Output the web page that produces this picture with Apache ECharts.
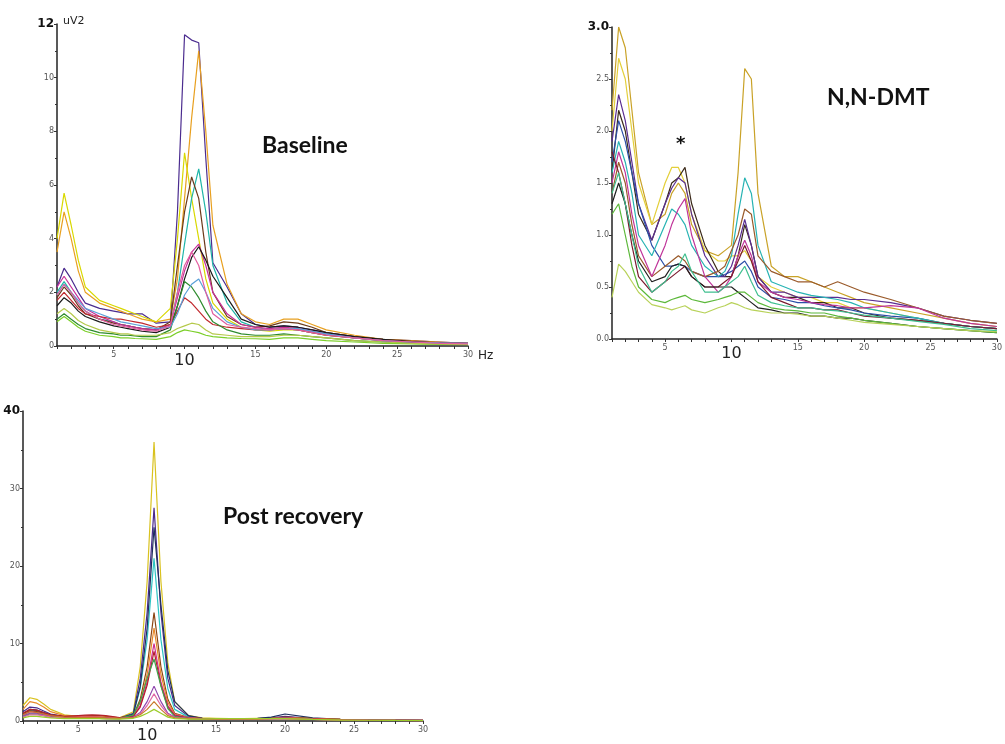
<!DOCTYPE html>
<html>
<head>
<meta charset="utf-8">
<script src="https://cdn.jsdelivr.net/npm/echarts@6/dist/echarts.min.js"></script>
<style>
  html, body { margin: 0; padding: 0; background: #fff; }
  #chart { width: 1005px; height: 744px; }
</style>
</head>
<body>
<div id="chart"></div>
<script>
// frequency grid (Hz) shared by all three spectra
var hz = [1, 1.5, 2, 2.5, 3, 4, 5, 5.5, 6, 6.5, 7, 8, 9, 9.5, 10, 10.5, 11, 11.5, 12, 13, 14, 15, 16, 17, 18, 19, 20, 22, 24, 26, 28, 30]
var xTickValues = [1, 2, 3, 4, 5, 6, 7, 8, 9, 10, 11, 12, 13, 14, 15, 16, 17, 18, 19, 20, 21, 22, 23, 24, 25, 26, 27, 28, 29, 30]
var xLabelValues = [5, 10, 15, 20, 25, 30]

// Baseline (uV2)
var baselineCurves = [
  [2.2, 2.9, 2.5, 2.0, 1.6, 1.4, 1.3, 1.25, 1.2, 1.2, 1.2, 0.85, 0.9, 5.0, 11.6, 11.4, 11.3, 7.0, 3.1, 2.2, 1.2, 0.8, 0.7, 0.75, 0.7, 0.6, 0.5, 0.35, 0.25, 0.2, 0.15, 0.1],
  [3.5, 5.0, 4.0, 2.8, 2.0, 1.6, 1.4, 1.3, 1.2, 1.1, 1.0, 0.9, 1.0, 2.5, 5.5, 8.5, 11.0, 8.0, 4.5, 2.3, 1.2, 0.9, 0.8, 1.0, 1.0, 0.8, 0.6, 0.4, 0.25, 0.2, 0.15, 0.1],
  [4.0, 5.7, 4.5, 3.2, 2.2, 1.7, 1.5, 1.4, 1.3, 1.2, 1.1, 0.9, 1.4, 4.0, 7.2, 5.5, 4.0, 2.5, 1.6, 1.0, 0.7, 0.6, 0.55, 0.6, 0.6, 0.5, 0.4, 0.3, 0.2, 0.15, 0.1, 0.08],
  [2.0, 2.4, 2.0, 1.6, 1.3, 1.0, 0.9, 0.8, 0.75, 0.7, 0.65, 0.6, 0.8, 2.0, 3.8, 5.5, 6.6, 5.0, 3.0, 1.6, 0.9, 0.7, 0.6, 0.65, 0.6, 0.5, 0.4, 0.3, 0.2, 0.15, 0.12, 0.1],
  [1.8, 2.2, 1.9, 1.5, 1.2, 1.0, 0.85, 0.8, 0.75, 0.7, 0.65, 0.6, 0.9, 3.0, 5.0, 6.3, 5.5, 3.5, 2.0, 1.1, 0.8, 0.7, 0.75, 0.9, 0.85, 0.7, 0.5, 0.35, 0.25, 0.18, 0.12, 0.1],
  [2.2, 2.6, 2.2, 1.8, 1.4, 1.1, 0.9, 0.8, 0.75, 0.7, 0.65, 0.6, 0.8, 1.8, 2.8, 3.5, 3.8, 3.0, 2.0, 1.2, 0.8, 0.7, 0.65, 0.7, 0.65, 0.55, 0.45, 0.3, 0.22, 0.15, 0.12, 0.1],
  [1.5, 1.8, 1.6, 1.3, 1.1, 0.9, 0.75, 0.7, 0.65, 0.6, 0.55, 0.5, 0.7, 1.5, 2.5, 3.3, 3.7, 3.2, 2.6, 1.8, 1.0, 0.8, 0.7, 0.75, 0.7, 0.6, 0.5, 0.35, 0.25, 0.15, 0.1, 0.08],
  [1.7, 2.0, 1.7, 1.4, 1.2, 1.1, 1.0, 1.0, 0.95, 0.9, 0.85, 0.7, 0.8, 1.3, 1.8, 1.6, 1.3, 1.0, 0.8, 0.7, 0.65, 0.6, 0.6, 0.65, 0.6, 0.5, 0.4, 0.3, 0.2, 0.15, 0.12, 0.1],
  [1.0, 1.2, 1.0, 0.8, 0.65, 0.5, 0.45, 0.4, 0.4, 0.38, 0.35, 0.35, 0.6, 1.5, 2.4, 2.2, 1.8, 1.3, 0.9, 0.6, 0.45, 0.4, 0.4, 0.45, 0.4, 0.35, 0.3, 0.2, 0.15, 0.1, 0.08, 0.06],
  [0.9, 1.1, 0.9, 0.7, 0.55, 0.4, 0.35, 0.3, 0.3, 0.28, 0.27, 0.25, 0.35, 0.5, 0.6, 0.55, 0.5, 0.4, 0.35, 0.3, 0.28, 0.27, 0.25, 0.3, 0.3, 0.25, 0.2, 0.15, 0.1, 0.08, 0.06, 0.05],
  [1.2, 1.4, 1.2, 0.95, 0.8, 0.6, 0.5, 0.45, 0.45, 0.4, 0.4, 0.4, 0.5, 0.65, 0.75, 0.85, 0.8, 0.6, 0.45, 0.4, 0.35, 0.35, 0.35, 0.4, 0.4, 0.35, 0.3, 0.2, 0.15, 0.1, 0.08, 0.06],
  [1.9, 2.3, 2.0, 1.7, 1.4, 1.2, 1.0, 0.9, 0.85, 0.8, 0.75, 0.65, 0.7, 1.2, 1.9, 2.3, 2.5, 2.0, 1.4, 0.9, 0.7, 0.6, 0.6, 0.65, 0.65, 0.55, 0.45, 0.3, 0.2, 0.15, 0.12, 0.1],
  [1.9, 2.3, 2.0, 1.6, 1.3, 1.0, 0.8, 0.75, 0.7, 0.65, 0.6, 0.55, 0.75, 2.0, 3.0, 3.5, 3.0, 2.0, 1.2, 0.8, 0.7, 0.65, 0.6, 0.65, 0.6, 0.5, 0.4, 0.3, 0.2, 0.15, 0.1, 0.08]
]
var baselineColors = ['#4b2c8f', '#e8a020', '#d8d800', '#1fb5a8', '#6b3a1a', '#c8309a', '#1a1a1a', '#c0282d', '#2e8b2e', '#7ccf2a', '#b5c94a', '#5aa0d8', '#e35d9f']

// N,N-DMT (uV2)
var dmtCurves = [
  [2.2, 3.0, 2.8, 2.2, 1.6, 1.1, 1.2, 1.4, 1.5, 1.4, 1.1, 0.85, 0.8, 0.85, 0.9, 1.6, 2.6, 2.5, 1.4, 0.7, 0.6, 0.6, 0.55, 0.5, 0.45, 0.4, 0.35, 0.3, 0.25, 0.2, 0.15, 0.12],
  [2.0, 2.7, 2.5, 2.0, 1.5, 1.1, 1.5, 1.65, 1.65, 1.5, 1.2, 0.85, 0.75, 0.75, 0.8, 0.8, 0.85, 0.75, 0.6, 0.5, 0.45, 0.4, 0.4, 0.35, 0.35, 0.3, 0.3, 0.25, 0.2, 0.15, 0.12, 0.1],
  [1.6, 2.2, 2.0, 1.6, 1.2, 0.95, 1.3, 1.5, 1.55, 1.65, 1.3, 0.9, 0.65, 0.6, 0.6, 0.8, 1.1, 0.9, 0.6, 0.45, 0.4, 0.4, 0.35, 0.35, 0.3, 0.3, 0.25, 0.2, 0.18, 0.15, 0.12, 0.1],
  [1.9, 2.35, 2.1, 1.7, 1.3, 0.95, 1.3, 1.45, 1.55, 1.5, 1.2, 0.8, 0.6, 0.6, 0.7, 0.9, 1.15, 0.9, 0.6, 0.45, 0.45, 0.4, 0.4, 0.4, 0.4, 0.38, 0.38, 0.35, 0.3, 0.22, 0.18, 0.15],
  [1.7, 2.1, 1.9, 1.6, 1.3, 0.9, 0.7, 0.7, 0.72, 0.7, 0.65, 0.6, 0.6, 0.62, 0.65, 0.7, 0.75, 0.65, 0.5, 0.4, 0.38, 0.35, 0.35, 0.32, 0.3, 0.28, 0.25, 0.22, 0.2, 0.15, 0.12, 0.1],
  [1.6, 1.9, 1.7, 1.4, 1.0, 0.8, 1.1, 1.25, 1.2, 1.1, 0.9, 0.7, 0.6, 0.65, 0.8, 1.2, 1.55, 1.4, 0.9, 0.55, 0.5, 0.45, 0.42, 0.4, 0.38, 0.35, 0.3, 0.25, 0.2, 0.15, 0.12, 0.1],
  [1.4, 1.7, 1.5, 1.1, 0.8, 0.6, 0.7, 0.75, 0.8, 0.75, 0.65, 0.6, 0.65, 0.7, 0.85, 1.0, 1.25, 1.2, 0.8, 0.65, 0.6, 0.55, 0.55, 0.5, 0.55, 0.5, 0.45, 0.38, 0.3, 0.22, 0.18, 0.15],
  [1.5, 1.8, 1.6, 1.2, 0.9, 0.6, 0.9, 1.1, 1.25, 1.35, 1.0, 0.6, 0.45, 0.5, 0.6, 0.8, 0.95, 0.8, 0.55, 0.45, 0.4, 0.38, 0.35, 0.33, 0.32, 0.3, 0.3, 0.32, 0.3, 0.2, 0.15, 0.12],
  [1.8, 1.6, 1.3, 0.9, 0.6, 0.45, 0.55, 0.6, 0.65, 0.7, 0.6, 0.5, 0.5, 0.55, 0.6, 0.75, 0.9, 0.75, 0.55, 0.4, 0.35, 0.3, 0.3, 0.28, 0.28, 0.25, 0.22, 0.2, 0.18, 0.15, 0.12, 0.1],
  [1.3, 1.5, 1.3, 1.0, 0.75, 0.55, 0.6, 0.7, 0.72, 0.7, 0.6, 0.5, 0.5, 0.5, 0.5, 0.45, 0.4, 0.35, 0.3, 0.28, 0.25, 0.25, 0.22, 0.22, 0.2, 0.2, 0.18, 0.15, 0.12, 0.1, 0.08, 0.06],
  [1.2, 1.3, 1.0, 0.7, 0.5, 0.38, 0.35, 0.38, 0.4, 0.42, 0.38, 0.35, 0.38, 0.4, 0.42, 0.45, 0.45, 0.4, 0.35, 0.3, 0.28, 0.27, 0.25, 0.25, 0.22, 0.2, 0.18, 0.15, 0.12, 0.1, 0.08, 0.06],
  [0.4, 0.72, 0.65, 0.55, 0.45, 0.33, 0.3, 0.28, 0.3, 0.32, 0.28, 0.25, 0.3, 0.32, 0.35, 0.33, 0.3, 0.28, 0.27, 0.25, 0.25, 0.24, 0.22, 0.22, 0.2, 0.18, 0.16, 0.14, 0.12, 0.1, 0.08, 0.07],
  [1.4, 1.6, 1.3, 1.0, 0.7, 0.45, 0.55, 0.65, 0.7, 0.82, 0.65, 0.45, 0.45, 0.5, 0.55, 0.6, 0.7, 0.55, 0.42, 0.35, 0.32, 0.3, 0.3, 0.28, 0.27, 0.25, 0.23, 0.2, 0.17, 0.14, 0.1, 0.08]
]
var dmtColors = ['#c9a227', '#e3cf3a', '#3b2a1a', '#5a2d91', '#2b4fa8', '#27b3b3', '#9a5a2a', '#c0359a', '#7a1a2e', '#202020', '#5cb83a', '#b8d25a', '#3fbf8f']

// Post recovery (uV2)
var postCurves = [
  [2.0, 3.0, 2.8, 2.2, 1.5, 0.8, 0.6, 0.55, 0.5, 0.5, 0.45, 0.4, 1.2, 7, 18, 36, 18, 7.5, 2.5, 0.7, 0.4, 0.35, 0.3, 0.3, 0.35, 0.4, 0.5, 0.3, 0.2, 0.15, 0.1, 0.1],
  [1.2, 1.8, 1.7, 1.3, 0.9, 0.6, 0.5, 0.5, 0.5, 0.45, 0.4, 0.35, 1.0, 5.5, 14, 27.5, 14, 5.5, 2.0, 0.6, 0.35, 0.3, 0.3, 0.3, 0.3, 0.4, 0.6, 0.3, 0.2, 0.15, 0.1, 0.08],
  [1.0, 1.4, 1.3, 1.0, 0.7, 0.5, 0.45, 0.45, 0.4, 0.4, 0.35, 0.3, 0.9, 4.2, 10.5, 21, 10.5, 4.2, 1.5, 0.5, 0.3, 0.3, 0.25, 0.25, 0.3, 0.35, 0.45, 0.25, 0.15, 0.12, 0.1, 0.08],
  [0.9, 1.5, 1.4, 1.1, 0.8, 0.55, 0.5, 0.5, 0.45, 0.45, 0.4, 0.35, 0.9, 4.5, 12, 25, 15, 6.5, 2.5, 0.7, 0.35, 0.3, 0.3, 0.3, 0.35, 0.5, 0.9, 0.4, 0.2, 0.15, 0.1, 0.08],
  [1.0, 1.3, 1.2, 1.0, 0.8, 0.6, 0.6, 0.65, 0.7, 0.7, 0.6, 0.4, 0.7, 2.8, 7, 14, 7, 2.8, 1.0, 0.45, 0.3, 0.3, 0.3, 0.3, 0.3, 0.35, 0.5, 0.3, 0.2, 0.12, 0.1, 0.08],
  [1.5, 2.5, 2.3, 1.8, 1.2, 0.7, 0.6, 0.6, 0.6, 0.55, 0.5, 0.4, 0.6, 2.4, 6, 12, 6, 2.4, 0.9, 0.4, 0.3, 0.3, 0.3, 0.3, 0.3, 0.35, 0.45, 0.3, 0.2, 0.12, 0.1, 0.08],
  [0.8, 1.2, 1.1, 0.9, 0.7, 0.5, 0.5, 0.5, 0.5, 0.5, 0.45, 0.35, 0.6, 2, 5, 10, 5, 2, 0.8, 0.4, 0.3, 0.25, 0.25, 0.25, 0.3, 0.3, 0.4, 0.25, 0.15, 0.12, 0.1, 0.08],
  [1.0, 1.5, 1.4, 1.1, 0.8, 0.6, 0.7, 0.75, 0.8, 0.75, 0.7, 0.45, 0.6, 1.8, 4.6, 9, 4.6, 1.8, 0.7, 0.35, 0.3, 0.25, 0.25, 0.25, 0.3, 0.3, 0.35, 0.25, 0.15, 0.1, 0.08, 0.06],
  [0.6, 0.9, 0.9, 0.7, 0.5, 0.4, 0.35, 0.35, 0.35, 0.35, 0.3, 0.3, 0.8, 2.5, 5.5, 8, 4.5, 1.6, 0.6, 0.3, 0.25, 0.25, 0.25, 0.25, 0.25, 0.3, 0.35, 0.2, 0.15, 0.1, 0.08, 0.06],
  [0.7, 1.0, 1.0, 0.8, 0.6, 0.45, 0.4, 0.4, 0.4, 0.4, 0.35, 0.3, 0.5, 1.1, 2.5, 4.5, 2.5, 1.0, 0.5, 0.3, 0.25, 0.25, 0.25, 0.25, 0.25, 0.3, 0.35, 0.2, 0.15, 0.1, 0.08, 0.06],
  [0.5, 0.8, 0.8, 0.7, 0.5, 0.4, 0.35, 0.35, 0.35, 0.35, 0.3, 0.3, 0.45, 0.9, 2.0, 3.5, 2.0, 0.9, 0.45, 0.3, 0.25, 0.2, 0.2, 0.2, 0.22, 0.25, 0.3, 0.2, 0.12, 0.1, 0.07, 0.05],
  [0.8, 1.2, 1.1, 0.9, 0.7, 0.5, 0.45, 0.45, 0.45, 0.45, 0.4, 0.35, 0.45, 0.8, 1.5, 2.5, 1.5, 0.7, 0.4, 0.3, 0.25, 0.25, 0.25, 0.25, 0.25, 0.3, 0.3, 0.2, 0.15, 0.1, 0.08, 0.06],
  [0.4, 0.6, 0.6, 0.5, 0.4, 0.3, 0.3, 0.3, 0.3, 0.3, 0.28, 0.25, 0.35, 0.6, 1.0, 1.5, 1.0, 0.5, 0.3, 0.25, 0.25, 0.3, 0.3, 0.3, 0.3, 0.3, 0.3, 0.2, 0.12, 0.1, 0.07, 0.05]
]
var postColors = ['#d9c21f', '#4a2a8c', '#2ec4c4', '#20305e', '#8b4513', '#e8892a', '#cc2f8f', '#b5202a', '#3fa34d', '#8e44ad', '#e06aa8', '#c8782a', '#9ccc2a']

var myChart = echarts.init(document.getElementById('chart'))

var small = { fontSize: 8, color: '#555', fontFamily: 'DejaVu Sans' }
var bigTen = { fontSize: 16, color: '#222', fontFamily: 'DejaVu Sans', padding: [2, 0, 0, 0] }
var topLab = { fontSize: 12, fontWeight: 'bold', color: '#111', fontFamily: 'DejaVu Sans' }

function xAxisFor(gi) {
  return {
    type: 'value', gridIndex: gi, min: 1, max: 30,
    splitLine: { show: false },
    axisLine: { lineStyle: { color: '#222', width: 1.5 } },
    axisTick: { customValues: xTickValues, length: 3, lineStyle: { color: '#333' } },
    axisLabel: {
      customValues: xLabelValues, margin: 5,
      formatter: function (v) { return v === 10 ? '{big|10}' : '{s|' + v + '}' },
      rich: { s: small, big: bigTen }
    }
  }
}

function yAxisFor(gi, max, interval, topText, digits) {
  return {
    type: 'value', gridIndex: gi, min: 0, max: max, interval: interval,
    splitLine: { show: false },
    axisLine: { show: true, lineStyle: { color: '#222', width: 1.5 } },
    axisTick: { show: true, length: 3, lineStyle: { color: '#333' } },
    minorTick: { show: true, splitNumber: 2, length: 2, lineStyle: { color: '#333' } },
    axisLabel: {
      margin: 3,
      formatter: function (v) {
        if (v === max) return '{t|' + topText + '}'
        return '{s|' + v.toFixed(digits) + '}'
      },
      rich: { s: small, t: topLab }
    }
  }
}

function buildSeries(curves, colors, gi) {
  return curves.map(function (vals, i) {
    return {
      name: 'S' + (gi + 1) + '-' + (i + 1),
      type: 'line',
      xAxisIndex: gi, yAxisIndex: gi,
      showSymbol: false, symbol: 'none',
      data: hz.map(function (f, k) { return [f, vals[k]] }),
      lineStyle: { color: colors[i], width: 1.2 },
      itemStyle: { color: colors[i] },
      z: 2
    }
  })
}

var titleFont = { fontSize: 23, fontWeight: 'bold', fill: '#111', fontFamily: 'Lato' }

var option = {
  animation: false,
  backgroundColor: '#fff',
  grid: [
    { left: 57, top: 24, width: 411, height: 322 },
    { left: 612, top: 27, width: 389, height: 312 },
    { left: 23, top: 411, width: 400, height: 316 }
  ],
  xAxis: [xAxisFor(0), xAxisFor(1), xAxisFor(2)],
  yAxis: [
    yAxisFor(0, 12, 2, '12', 0),
    yAxisFor(1, 3, 0.5, '3.0', 1),
    yAxisFor(2, 40, 10, '40', 0)
  ],
  graphic: [
    { type: 'text', left: 63, top: 16, style: { text: 'uV2', fontSize: 11, fill: '#222', fontFamily: 'DejaVu Sans' } },
    { type: 'text', left: 478, top: 350, style: { text: 'Hz', fontSize: 12, fill: '#222', fontFamily: 'DejaVu Sans' } },
    { type: 'text', left: 262, top: 134, style: Object.assign({ text: 'Baseline' }, titleFont) },
    { type: 'text', left: 827, top: 86, style: Object.assign({ text: 'N,N-DMT' }, titleFont) },
    { type: 'text', left: 676, top: 135, style: { text: '*', fontSize: 18, fontWeight: 'bold', fill: '#111', fontFamily: 'DejaVu Sans' } },
    { type: 'text', left: 223, top: 505, style: Object.assign({ text: 'Post recovery' }, titleFont) }
  ],
  series: [].concat(
    buildSeries(baselineCurves, baselineColors, 0),
    buildSeries(dmtCurves, dmtColors, 1),
    buildSeries(postCurves, postColors, 2)
  )
}

option && myChart.setOption(option)
</script>
</body>
</html>
